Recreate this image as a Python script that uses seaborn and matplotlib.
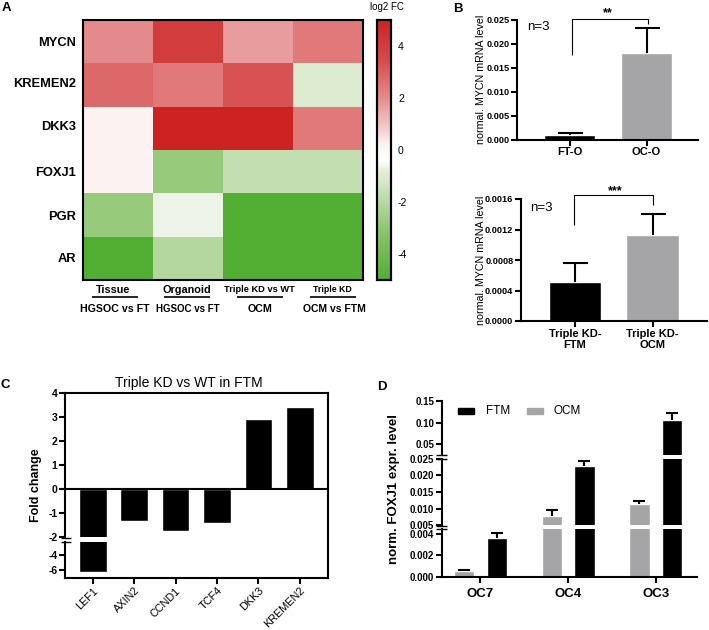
import matplotlib
matplotlib.use('Agg')
import matplotlib.pyplot as plt
from matplotlib.colors import LinearSegmentedColormap
import numpy as np
import pandas as pd
import seaborn as sns

# Panel A
genes = ['MYCN', 'KREMEN2', 'DKK3', 'FOXJ1', 'PGR', 'AR']
comparisons = ['Tissue', 'Organoid', 'Triple KD vs WT', 'Triple KD']
log2fc = [[2.0, 4.0, 1.7, 2.4],
          [2.8, 2.4, 3.3, -1.05],
          [0.2, 5.0, 5.0, 2.4],
          [0.2, -2.8, -1.7, -1.7],
          [-2.8, -0.7, -5.0, -5.0],
          [-5.0, -2.1, -5.0, -5.0]]

# Panel B
b1_groups = ['FT-O', 'OC-O']
b1_means = [0.0009, 0.018]
b1_errs = [0.0005, 0.0052]
b2_groups = ['Triple KD-\nFTM', 'Triple KD-\nOCM']
b2_means = [0.00051, 0.00113]
b2_errs = [0.00025, 0.00027]

# Panel C
c_genes = ['LEF1', 'AXIN2', 'CCND1', 'TCF4', 'DKK3', 'KREMEN2']
c_fold = [-6.2, -1.35, -1.77, -1.42, 2.93, 3.43]

# Panel D
d_lines = ['OC7', 'OC4', 'OC3']
d_ocm = [0.0005, 0.0078, 0.0114]
d_ocm_err = [0.00013, 0.0018, 0.0009]
d_ftm = [0.0036, 0.0229, 0.107]
d_ftm_err = [0.0005, 0.0013, 0.014]

sns.set_theme(style='white')
plt.rcParams['font.family'] = ['Liberation Sans', 'DejaVu Sans']
plt.rcParams['axes.edgecolor'] = 'black'
plt.rcParams['xtick.color'] = 'black'
plt.rcParams['ytick.color'] = 'black'
plt.rcParams['axes.unicode_minus'] = False

W, H = 709, 630
fig = plt.figure(figsize=(W / 100, H / 100), dpi=100)


def px_axes(left, top, right, bottom):
    return fig.add_axes([left / W, 1 - bottom / H, (right - left) / W, (bottom - top) / H])


def px_text(x, y, s, **kw):
    kw.setdefault('ha', 'center')
    kw.setdefault('va', 'center')
    kw.setdefault('color', 'black')
    fig.text(x / W, 1 - y / H, s, **kw)


def px_line(xs, ys, lw=1.5, color='black'):
    fig.add_artist(plt.Line2D([x / W for x in xs], [1 - y / H for y in ys], lw=lw, color=color,
                              solid_capstyle='butt'))


def style_bar_axes(ax):
    sns.despine(ax=ax)
    for s in ax.spines.values():
        s.set_linewidth(1.5)
    ax.tick_params(left=True, bottom=True, width=1.5, length=4, pad=1.5)
    ax.set_xlabel('')
    ax.set_ylabel('')
    ax.patch.set_alpha(0)


def up_errors(ax, xs, means, errs, capsize):
    # only the upper cap, the lower one would sit on the bar
    _, caps, _ = ax.errorbar(xs, means, yerr=[[0] * len(errs), errs], fmt='none', ecolor='black',
                             elinewidth=1.5, capsize=capsize, capthick=1.5)
    caps[0].set_visible(False)


for letter, x, y in [('A', 6, 8), ('B', 458, 9), ('C', 5, 385), ('D', 381.5, 387)]:
    px_text(x, y, letter, fontsize=9.5, fontweight='bold')

# --- A: heatmap
cmap = LinearSegmentedColormap.from_list(
    'gr', [(0, '#52ae32'), (0.2, '#90c673'), (0.42, '#e6efdd'), (0.46, '#ffffff'),
           (0.52, '#fdf3f3'), (0.7, '#e58b8d'), (0.85, '#d64a4c'), (1, '#cc2222')])
heat = pd.DataFrame(log2fc, index=genes, columns=comparisons)
ax_a = px_axes(83, 20, 363, 280)
ax_cb = px_axes(377, 20, 391, 280)
sns.heatmap(heat, ax=ax_a, cbar_ax=ax_cb, cmap=cmap, vmin=-5, vmax=5,
            cbar_kws={'ticks': [-4, -2, 0, 2, 4]})
ax_a.set_xticks([])
ax_a.set_yticks([])
ax_a.set_xlabel('')
ax_a.set_ylabel('')
for s in ax_a.spines.values():
    s.set_visible(True)
    s.set_linewidth(1.5)
for s in ax_cb.spines.values():
    s.set_visible(True)
    s.set_linewidth(1.5)
ax_cb.tick_params(left=True, right=True, direction='in', length=2, width=1.2, labelsize=7.5, pad=5)
px_text(387, 7, 'log2 FC', fontsize=7)
gene_y = [42.7, 84, 127, 172.7, 216.7, 259]
for y, g in zip(gene_y, genes):
    px_text(76, y, g, ha='right', fontsize=9.3, fontweight='bold')
sub = [('Tissue', 'HGSOC vs FT', 113, 114.5, 115, 7.8, 7.7),
       ('Organoid', 'HGSOC vs FT', 187, 188, 187, 7.8, 7),
       ('Triple KD vs WT', 'OCM', 259, 260, 260, 6.7, 7.7),
       ('Triple KD', 'OCM vs FTM', 332, 334.5, 332.5, 6.3, 7.5)]
for head, low, hx, lx, ux, hsize, lsize in sub:
    px_text(hx, 290, head, fontsize=hsize, fontweight='bold')
    px_text(lx, 309.5, low, fontsize=lsize, fontweight='bold')
    px_line([ux - 23, ux + 23], [297, 297], lw=1.2)

# --- B: two small bar charts
bar_colors = ['black', '#a5a4a6']
for groups, means, errs, box, ymax, ticks, fmt, n_xy, brk, xlim, wid in [
    (b1_groups, b1_means, b1_errs, (517, 19.7, 698, 139.5), 0.025,
     [0, 0.005, 0.01, 0.015, 0.02, 0.025], '%.3f', (538, 27),
     ([572.3, 572.3, 648, 648], [55, 19, 19, 24], 608, 13, '**'), (-0.69, 1.67), 0.665),
    (b2_groups, b2_means, b2_errs, (521, 199, 707, 321), 0.0016,
     [0, 0.0004, 0.0008, 0.0012, 0.0016], '%.4f', (541.5, 208),
     ([574, 574, 652.7, 652.7], [225, 195, 195, 205], 615, 191, '***'), (-0.695, 1.70), 0.68),
]:
    ax = px_axes(*box)
    df = pd.DataFrame({'group': groups, 'value': means})
    sns.barplot(data=df, x='group', y='value', hue='group', palette=bar_colors, legend=False,
                width=wid, errorbar=None, ax=ax)
    up_errors(ax, range(2), means, errs, 9)
    ax.set_xlim(*xlim)
    ax.set_ylim(0, ymax)
    ax.set_yticks(ticks)
    ax.set_yticklabels([fmt % t for t in ticks], fontsize=6.6, fontweight='bold')
    ax.tick_params(axis='x', labelsize=8, pad=3)
    for lab in ax.get_xticklabels():
        lab.set_fontweight('bold')
    style_bar_axes(ax)
    px_text(481, (box[1] + box[3]) / 2, 'normal. MYCN mRNA level', rotation=90, fontsize=7.7)
    px_text(n_xy[0], n_xy[1], 'n=3', fontsize=9.5)
    xs, ys, sx, sy, stars = brk
    px_line(xs, ys, lw=0.8)
    px_text(sx, sy, stars, fontsize=9, fontweight='bold')

# --- C: fold change with broken y axis
c_df = pd.DataFrame({'gene': c_genes, 'fold': c_fold})
ax_c1 = px_axes(65, 393, 328, 537.3)
ax_c2 = px_axes(65, 542, 328, 578)
for ax in (ax_c1, ax_c2):
    sns.barplot(data=c_df, x='gene', y='fold', color='black', saturation=1, width=0.67,
                errorbar=None, ax=ax)
    ax.set_xlim(-0.67, 5.68)
    style_bar_axes(ax)
ax_c1.set_ylim(-2.03, 4)
ax_c1.set_yticks([-2, -1, 0, 1, 2, 3, 4])
ax_c1.spines['top'].set_visible(True)
ax_c1.spines['right'].set_visible(True)
ax_c1.spines['bottom'].set_visible(False)
ax_c1.tick_params(bottom=False, labelbottom=False)
ax_c1.axhline(0, color='black', lw=1.5)
ax_c2.set_ylim(-7.05, -2.18)
ax_c2.set_yticks([-4, -6])
ax_c2.spines['right'].set_visible(True)
for ax in (ax_c1, ax_c2):
    ax.tick_params(axis='y', labelsize=7.5, labelcolor='black')
    for lab in ax.get_yticklabels():
        lab.set_fontweight('bold')
ax_c2.set_xticks(range(6))
ax_c2.set_xticklabels(c_genes, rotation=45, ha='right', rotation_mode='anchor', fontsize=7.8)
px_line([328, 328], [537, 542])
px_line([61, 71], [537.5, 537.5], lw=1)
px_line([61, 71], [541.5, 541.5], lw=1)
px_text(36, 485, 'Fold change', rotation=90, fontsize=9, fontweight='bold')
px_text(189, 383, 'Triple KD vs WT in FTM', fontsize=10)

# --- D: FOXJ1 with two breaks
d_df = pd.DataFrame({
    'line': d_lines * 2,
    'medium': ['OCM'] * 3 + ['FTM'] * 3,
    'level': d_ocm + d_ftm,
})
d_means = d_ocm + d_ftm
d_errs = d_ocm_err + d_ftm_err
ax_d3 = px_axes(441.7, 401, 697, 454.8)
ax_d2 = px_axes(441.7, 458.7, 697, 525.3)
ax_d1 = px_axes(441.7, 529.3, 697, 576.7)
for ax, lims, ticks, fmt in [(ax_d3, (0.025, 0.15), [0.05, 0.10, 0.15], '%.2f'),
                             (ax_d2, (0.005, 0.025), [0.005, 0.01, 0.015, 0.02, 0.025], '%.3f'),
                             (ax_d1, (0, 0.00444), [0, 0.002, 0.004], '%.3f')]:
    sns.barplot(data=d_df, x='line', y='level', hue='medium', hue_order=['OCM', 'FTM'],
                palette={'OCM': '#a5a4a6', 'FTM': 'black'}, saturation=1, width=0.745, gap=0.38,
                errorbar=None, legend=False, ax=ax)
    centers = [p.get_x() + p.get_width() / 2 for p in ax.patches][:6]
    # a cap just past a break would still bleed over the edge of this segment
    keep = [i for i in range(6) if lims[0] <= d_means[i] + d_errs[i] <= lims[1]]
    up_errors(ax, [centers[i] for i in keep], [d_means[i] for i in keep],
              [d_errs[i] for i in keep], 4.3)
    ax.set_xlim(-0.44, 2.47)
    ax.set_ylim(*lims)
    ax.set_yticks(ticks)
    ax.set_yticklabels([fmt % t for t in ticks], fontsize=7, fontweight='bold')
    style_bar_axes(ax)
for ax in (ax_d3, ax_d2):
    ax.spines['bottom'].set_visible(False)
    ax.tick_params(bottom=False, labelbottom=False)
ax_d1.set_xticks(range(3))
ax_d1.set_xticklabels(d_lines, fontsize=9.5, fontweight='bold')
ax_d1.tick_params(axis='x', pad=4)
for y in (454.5, 458.5, 525.5, 529):
    px_line([436, 447], [y, y], lw=1)
px_text(394, 489, 'norm. FOXJ1 expr. level', rotation=90, fontsize=9.5, fontweight='bold')
fig.patches.append(plt.Rectangle((458 / W, 1 - 413.5 / H), 16 / W, 5.5 / H, color='black',
                                 transform=fig.transFigure))
fig.patches.append(plt.Rectangle((527 / W, 1 - 413.5 / H), 15.5 / W, 5.5 / H, color='#a5a4a6',
                                 transform=fig.transFigure))
px_text(498, 411, 'FTM', fontsize=8.5)
px_text(567, 411, 'OCM', fontsize=8.5)

fig.savefig('out.png', dpi=100)
